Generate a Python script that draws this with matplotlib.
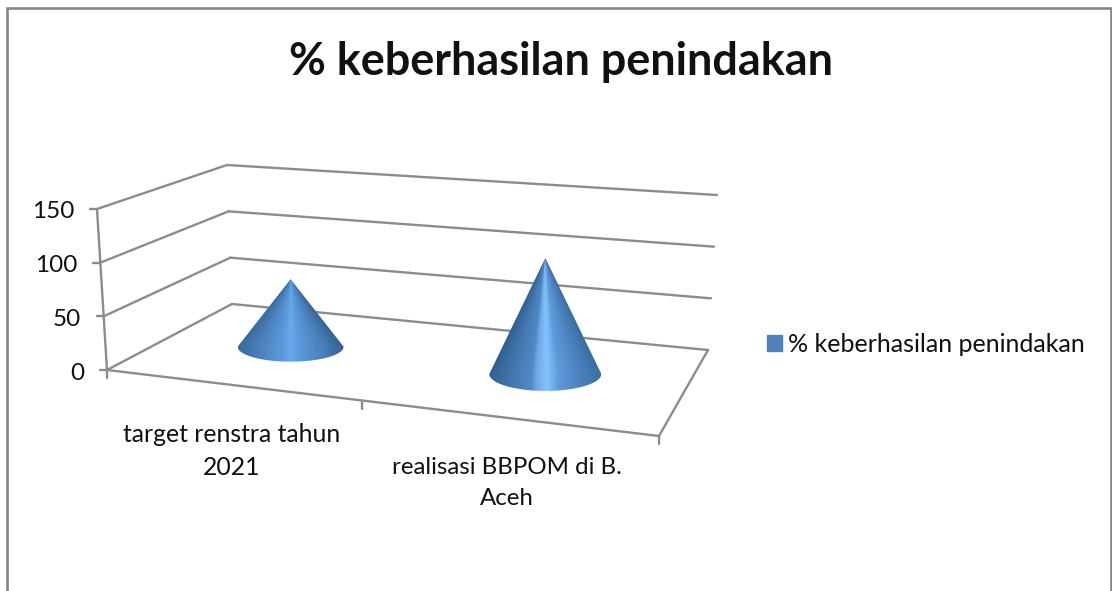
import numpy as np
import matplotlib
matplotlib.use('Agg')
import matplotlib.pyplot as plt
from matplotlib.colors import LinearSegmentedColormap
from matplotlib.patches import Patch, PathPatch
from matplotlib.path import Path

title = '% keberhasilan penindakan'
series_name = '% keberhasilan penindakan'
categories = ['target renstra tahun\n2021', 'realisasi BBPOM di B.\nAceh']
values = [66, 106]
y_ticks = [0, 50, 100, 150]

GREY = '#8c8c8c'
FONT = ['Lato', 'DejaVu Sans']

# plot box corners in pixels: front-left, front-right, back-right, back-left
FLOOR = [(107, 370), (659, 436), (708, 350), (232, 304)]
ROOF = [(97, 209), (674, 246), (717, 195), (227, 165)]
Y_MAX = 150


def homography(quad):
    # unit square -> quad
    src = [(0, 0), (1, 0), (1, 1), (0, 1)]
    a, b = [], []
    for (u, v), (x, y) in zip(src, quad):
        a.append([u, v, 1, 0, 0, 0, -u * x, -v * x])
        a.append([0, 0, 0, u, v, 1, -u * y, -v * y])
        b += [x, y]
    return np.append(np.linalg.solve(np.array(a, float), np.array(b, float)), 1).reshape(3, 3)


H_FLOOR = homography(FLOOR)
H_ROOF = homography(ROOF)


def project(u, d, v=0):
    # u along the categories, d into the depth, v the value
    p = H_FLOOR @ [u, d, 1]
    q = H_ROOF @ [u, d, 1]
    p, q = p[:2] / p[2], q[:2] / q[2]
    return p + (q - p) * v / Y_MAX


def line(ax, p0, p1, lw=1.7):
    ax.plot([p0[0], p1[0]], [p0[1], p1[1]], color=GREY, lw=lw, solid_capstyle='round', zorder=2)


def draw_cone(ax, u, value, rx, ry, cmap):
    base = project(u, 0.5) + [1, 0]
    top = project(u, 0.5, value)[1]
    t = np.linspace(0, np.pi, 60)
    arc = np.column_stack([base[0] - rx * np.cos(t), base[1] + ry * np.sin(t)])
    verts = np.vstack([(base[0], top), arc, (base[0], top)])
    codes = [Path.MOVETO] + [Path.LINETO] * (len(verts) - 2) + [Path.CLOSEPOLY]
    clip = PathPatch(Path(verts, codes), fc='none', ec='none', transform=ax.transData)
    ax.add_patch(clip)
    # shading runs round the cone, so the bands close in on the apex
    xx, yy = np.meshgrid(np.linspace(-rx, rx, 300), np.linspace(top, base[1] + ry, 300))
    width = rx * np.clip((yy - top) / (base[1] - top), 0.01, 1)
    shade = np.clip(xx / width, -1, 1) / 2 + 0.5
    im = ax.imshow(shade, cmap=cmap, aspect='auto', zorder=3, vmin=0, vmax=1, interpolation='bilinear',
                   extent=(base[0] - rx, base[0] + rx, base[1] + ry, top))
    im.set_clip_path(clip)


fig = plt.figure(figsize=(11.12, 5.91), dpi=100)
ax = fig.add_axes([0, 0, 1, 1])

# walls and floor
for v in y_ticks:
    line(ax, project(0, 0, v), project(0, 1, v))
    line(ax, project(0, 1, v), project(1, 1, v))
line(ax, project(0, 0), project(1, 0))
line(ax, project(1, 0), project(1, 1))
line(ax, project(0, 0), project(0, 0, Y_MAX))

# ticks
for v in y_ticks:
    p = project(0, 0, v)
    line(ax, p, p + [-7, 0])
    ax.text(p[0] - 23, p[1] + 3, str(v), ha='right', va='center', fontsize=17.5,
            family=FONT, color='#111111')
for u in [0, 0.5, 1]:
    p = project(u, 0)
    line(ax, p, p + [0, 8])

cone_cmaps = [
    LinearSegmentedColormap.from_list('c1', [(0, '#3a6b9e'), (0.2, '#4b80bb'), (0.42, '#5c9adc'), (0.5, '#6ba8ec'),
                                             (0.58, '#5c9adc'), (0.8, '#4a80bc'), (1, '#346290')]),
    LinearSegmentedColormap.from_list('c2', [(0, '#2f5f8e'), (0.2, '#4477ae'), (0.38, '#5089c8'), (0.42, '#6da8e6'),
                                             (0.52, '#88c2ff'), (0.62, '#5e9bdc'), (0.8, '#4d84c2'), (1, '#3a6ea2')]),
]
for u, val, rx, ry, cm in zip([0.25, 0.75], values, [53, 56], [15, 17], cone_cmaps):
    draw_cone(ax, u, val, rx, ry, cm)

# category labels
for x, y, lab, size in zip([232, 507], [451, 483], categories, [17.8, 17.3]):
    ax.text(x, y, lab, ha='center', va='center', fontsize=size, family=FONT,
            color='#111111', linespacing=1.55)

ax.text(561, 62, title, ha='center', va='center', fontsize=32.4, fontweight='bold',
        family=FONT, color='#111111')

leg = ax.legend(handles=[Patch(color='#4f81bd', label=series_name)], loc='center left',
                bbox_to_anchor=(767, 344), bbox_transform=ax.transData, frameon=False,
                borderpad=0, borderaxespad=0, handlelength=0.6, handleheight=0.6,
                handletextpad=0.25, prop={'family': FONT, 'size': 18})
leg.get_texts()[0].set_color('#111111')

# outer chart frame, open at the bottom
ax.plot([7, 7, 1111, 1111], [591, 8, 8, 591], color='#868686', lw=1.9, solid_joinstyle='miter', zorder=1)

ax.set_xlim(0, 1112)
ax.set_ylim(591, 0)
ax.axis('off')
fig.savefig('out.png', dpi=100)
